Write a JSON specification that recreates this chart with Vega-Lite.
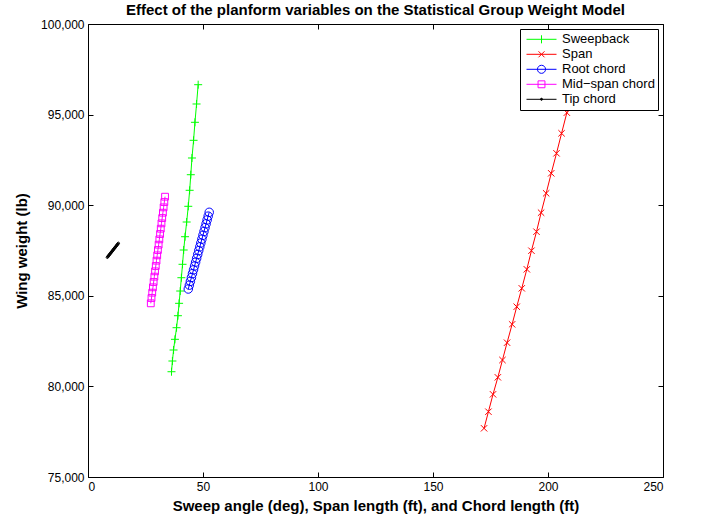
{
  "$schema": "https://vega.github.io/schema/vega-lite/v6.json",
  "autosize": "none",
  "padding": {"left": 88, "top": 24, "right": 38, "bottom": 44},
  "width": 575,
  "height": 453,
  "background": "white",
  "title": {
    "text": "Effect of the planform variables on the Statistical Group Weight Model",
    "font": "Liberation Sans",
    "fontSize": 15,
    "fontWeight": "bold",
    "color": "black",
    "anchor": "middle",
    "offset": 0
  },
  "data": {
    "values": [
      {"series": "Sweepback", "x": 36.3, "y": 80810},
      {"series": "Sweepback", "x": 36.7, "y": 81401},
      {"series": "Sweepback", "x": 37.2, "y": 82008},
      {"series": "Sweepback", "x": 37.8, "y": 82598},
      {"series": "Sweepback", "x": 38.5, "y": 83239},
      {"series": "Sweepback", "x": 39.1, "y": 83901},
      {"series": "Sweepback", "x": 39.6, "y": 84585},
      {"series": "Sweepback", "x": 40.1, "y": 85264},
      {"series": "Sweepback", "x": 40.6, "y": 85998},
      {"series": "Sweepback", "x": 41.1, "y": 86738},
      {"series": "Sweepback", "x": 41.6, "y": 87527},
      {"series": "Sweepback", "x": 42.2, "y": 88261},
      {"series": "Sweepback", "x": 42.9, "y": 89072},
      {"series": "Sweepback", "x": 43.6, "y": 89939},
      {"series": "Sweepback", "x": 44.2, "y": 90822},
      {"series": "Sweepback", "x": 44.7, "y": 91683},
      {"series": "Sweepback", "x": 45.2, "y": 92605},
      {"series": "Sweepback", "x": 45.9, "y": 93581},
      {"series": "Sweepback", "x": 46.5, "y": 94575},
      {"series": "Sweepback", "x": 47.2, "y": 95585},
      {"series": "Sweepback", "x": 47.9, "y": 96650},
      {"series": "Span", "x": 172.2, "y": 77687},
      {"series": "Span", "x": 174.1, "y": 78603},
      {"series": "Span", "x": 176.1, "y": 79563},
      {"series": "Span", "x": 178.2, "y": 80501},
      {"series": "Span", "x": 180.2, "y": 81456},
      {"series": "Span", "x": 182.2, "y": 82411},
      {"series": "Span", "x": 184.4, "y": 83426},
      {"series": "Span", "x": 186.4, "y": 84398},
      {"series": "Span", "x": 188.6, "y": 85413},
      {"series": "Span", "x": 190.8, "y": 86462},
      {"series": "Span", "x": 192.8, "y": 87488},
      {"series": "Span", "x": 195.0, "y": 88537},
      {"series": "Span", "x": 197.0, "y": 89586},
      {"series": "Span", "x": 199.2, "y": 90656},
      {"series": "Span", "x": 201.4, "y": 91760},
      {"series": "Span", "x": 203.7, "y": 92864},
      {"series": "Span", "x": 205.9, "y": 93968},
      {"series": "Span", "x": 208.2, "y": 95105},
      {"series": "Span", "x": 210.4, "y": 96260},
      {"series": "Span", "x": 212.6, "y": 97430},
      {"series": "Span", "x": 214.9, "y": 98620},
      {"series": "Root chord", "x": 43.6, "y": 85375},
      {"series": "Root chord", "x": 44.06, "y": 85587},
      {"series": "Root chord", "x": 44.51, "y": 85798},
      {"series": "Root chord", "x": 44.97, "y": 86010},
      {"series": "Root chord", "x": 45.42, "y": 86222},
      {"series": "Root chord", "x": 45.88, "y": 86433},
      {"series": "Root chord", "x": 46.33, "y": 86645},
      {"series": "Root chord", "x": 46.79, "y": 86857},
      {"series": "Root chord", "x": 47.24, "y": 87068},
      {"series": "Root chord", "x": 47.7, "y": 87280},
      {"series": "Root chord", "x": 48.15, "y": 87492},
      {"series": "Root chord", "x": 48.61, "y": 87703},
      {"series": "Root chord", "x": 49.06, "y": 87915},
      {"series": "Root chord", "x": 49.52, "y": 88126},
      {"series": "Root chord", "x": 49.97, "y": 88338},
      {"series": "Root chord", "x": 50.43, "y": 88550},
      {"series": "Root chord", "x": 50.88, "y": 88761},
      {"series": "Root chord", "x": 51.34, "y": 88973},
      {"series": "Root chord", "x": 51.79, "y": 89185},
      {"series": "Root chord", "x": 52.25, "y": 89396},
      {"series": "Root chord", "x": 52.7, "y": 89608},
      {"series": "Mid−span chord", "x": 27.3, "y": 84585},
      {"series": "Mid−span chord", "x": 27.61, "y": 84879},
      {"series": "Mid−span chord", "x": 27.92, "y": 85173},
      {"series": "Mid−span chord", "x": 28.23, "y": 85468},
      {"series": "Mid−span chord", "x": 28.54, "y": 85762},
      {"series": "Mid−span chord", "x": 28.85, "y": 86056},
      {"series": "Mid−span chord", "x": 29.16, "y": 86350},
      {"series": "Mid−span chord", "x": 29.47, "y": 86644},
      {"series": "Mid−span chord", "x": 29.78, "y": 86939},
      {"series": "Mid−span chord", "x": 30.09, "y": 87233},
      {"series": "Mid−span chord", "x": 30.4, "y": 87527},
      {"series": "Mid−span chord", "x": 30.71, "y": 87821},
      {"series": "Mid−span chord", "x": 31.02, "y": 88115},
      {"series": "Mid−span chord", "x": 31.33, "y": 88410},
      {"series": "Mid−span chord", "x": 31.64, "y": 88704},
      {"series": "Mid−span chord", "x": 31.95, "y": 88998},
      {"series": "Mid−span chord", "x": 32.26, "y": 89292},
      {"series": "Mid−span chord", "x": 32.57, "y": 89586},
      {"series": "Mid−span chord", "x": 32.88, "y": 89881},
      {"series": "Mid−span chord", "x": 33.19, "y": 90175},
      {"series": "Mid−span chord", "x": 33.5, "y": 90469},
      {"series": "Tip chord", "x": 8.4, "y": 87124},
      {"series": "Tip chord", "x": 8.64, "y": 87163},
      {"series": "Tip chord", "x": 8.88, "y": 87201},
      {"series": "Tip chord", "x": 9.12, "y": 87240},
      {"series": "Tip chord", "x": 9.36, "y": 87279},
      {"series": "Tip chord", "x": 9.6, "y": 87317},
      {"series": "Tip chord", "x": 9.84, "y": 87356},
      {"series": "Tip chord", "x": 10.08, "y": 87395},
      {"series": "Tip chord", "x": 10.32, "y": 87433},
      {"series": "Tip chord", "x": 10.56, "y": 87472},
      {"series": "Tip chord", "x": 10.8, "y": 87511},
      {"series": "Tip chord", "x": 11.04, "y": 87549},
      {"series": "Tip chord", "x": 11.28, "y": 87588},
      {"series": "Tip chord", "x": 11.52, "y": 87627},
      {"series": "Tip chord", "x": 11.76, "y": 87665},
      {"series": "Tip chord", "x": 12.0, "y": 87704},
      {"series": "Tip chord", "x": 12.24, "y": 87743},
      {"series": "Tip chord", "x": 12.48, "y": 87781},
      {"series": "Tip chord", "x": 12.72, "y": 87820},
      {"series": "Tip chord", "x": 12.96, "y": 87859},
      {"series": "Tip chord", "x": 13.2, "y": 87897}
    ]
  },
  "layer": [
    {
      "mark": {"type": "line", "strokeWidth": 1, "clip": true},
      "encoding": {
        "x": {
          "field": "x", "type": "quantitative",
          "scale": {"domain": [0, 250], "nice": false, "zero": false},
          "axis": {
            "orient": "bottom",
            "title": "Sweep angle (deg), Span length (ft), and Chord length (ft)",
            "values": [0, 50, 100, 150, 200, 250],
            "titlePadding": 6
          }
        },
        "y": {
          "field": "y", "type": "quantitative",
          "scale": {"domain": [75000, 100000], "nice": false, "zero": false},
          "axis": {
            "orient": "left",
            "title": "Wing weight (lb)",
            "values": [75000, 80000, 85000, 90000, 95000, 100000],
            "format": ",d",
            "titlePadding": 11
          }
        },
        "color": {
          "field": "series", "type": "nominal",
          "scale": {
            "domain": ["Sweepback", "Span", "Root chord", "Mid−span chord", "Tip chord"],
            "range": ["#00ff00", "#ff0000", "#0000ff", "#ff00ff", "#000000"]
          },
          "legend": {
            "title": null,
            "orient": "none",
            "legendX": 432,
            "legendY": 5,
            "fillColor": "white",
            "strokeColor": "black",
            "padding": 3,
            "rowPadding": 0,
            "clipHeight": 14.6,
            "symbolSize": 900,
            "symbolOffset": 3,
            "symbolStrokeWidth": 1,
            "labelOffset": 5,
            "labelFont": "Liberation Sans",
            "labelFontSize": 13,
            "labelColor": "black",
            "cornerRadius": 0,
            "encode": {
              "symbols": {
                "update": {
                  "shape": {"signal": "datum.value === 'Sweepback' ? 'M-1,0H1M0,-0.27V0.27' : datum.value === 'Span' ? 'M-1,0H1M-0.2,-0.2L0.2,0.2M-0.2,0.2L0.2,-0.2' : datum.value === 'Root chord' ? 'M-1,0H1M-0.27,0A0.27,0.27,0,1,0,0.27,0A0.27,0.27,0,1,0,-0.27,0' : datum.value === 'Tip chord' ? 'M-1,0H1M-0.07,0A0.07,0.07,0,1,0,0.07,0A0.07,0.07,0,1,0,-0.07,0' : 'M-1,0H1M-0.23,-0.23H0.23V0.23H-0.23Z'"},
                  "fill": {"signal": "datum.value === 'Tip chord' ? 'black' : 'transparent'"},
                  "stroke": {"scale": "color", "field": "value"},
                  "strokeWidth": {"value": 1},
                  "opacity": {"value": 1}
                }
              }
            }
          }
        }
      }
    },
    {
      "transform": [{"filter": "datum.series === 'Sweepback'"}],
      "mark": {"type": "point", "filled": false, "strokeWidth": 1, "size": 64, "opacity": 1, "clip": true, "shape": "M-1,0H1M0,-1V1"},
      "encoding": {
        "x": {
          "field": "x", "type": "quantitative",
          "axis": {"orient": "top", "labels": false, "title": null, "values": [0, 50, 100, 150, 200, 250]}
        },
        "y": {
          "field": "y", "type": "quantitative",
          "axis": {"orient": "right", "labels": false, "title": null, "values": [75000, 80000, 85000, 90000, 95000, 100000]}
        },
        "color": {"field": "series", "type": "nominal"}
      }
    },
    {
      "transform": [{"filter": "datum.series === 'Span'"}],
      "mark": {"type": "point", "filled": false, "strokeWidth": 1, "size": 64, "opacity": 1, "clip": true, "shape": "M-0.8,-0.8L0.8,0.8M-0.8,0.8L0.8,-0.8"},
      "encoding": {
        "x": {"field": "x", "type": "quantitative", "axis": null},
        "y": {"field": "y", "type": "quantitative", "axis": null},
        "color": {"field": "series", "type": "nominal"}
      }
    },
    {
      "transform": [{"filter": "datum.series === 'Root chord'"}],
      "mark": {"type": "point", "filled": false, "strokeWidth": 1, "size": 72, "opacity": 1, "clip": true, "shape": "circle"},
      "encoding": {
        "x": {"field": "x", "type": "quantitative", "axis": null},
        "y": {"field": "y", "type": "quantitative", "axis": null},
        "color": {"field": "series", "type": "nominal"}
      }
    },
    {
      "transform": [{"filter": "datum.series === 'Mid−span chord'"}],
      "mark": {"type": "point", "filled": false, "strokeWidth": 1, "size": 64, "opacity": 1, "clip": true, "shape": "M-0.85,-0.85H0.85V0.85H-0.85Z"},
      "encoding": {
        "x": {"field": "x", "type": "quantitative", "axis": null},
        "y": {"field": "y", "type": "quantitative", "axis": null},
        "color": {"field": "series", "type": "nominal"}
      }
    },
    {
      "transform": [{"filter": "datum.series === 'Tip chord'"}],
      "mark": {"type": "point", "filled": false, "strokeWidth": 1, "size": 64, "opacity": 1, "clip": true, "shape": "M-0.3,0A0.3,0.3,0,1,0,0.3,0A0.3,0.3,0,1,0,-0.3,0"},
      "encoding": {
        "x": {"field": "x", "type": "quantitative", "axis": null},
        "y": {"field": "y", "type": "quantitative", "axis": null},
        "color": {"field": "series", "type": "nominal"}
      }
    }
  ],
  "resolve": {"axis": {"x": "independent", "y": "independent"}},
  "config": {
    "view": {"stroke": null},
    "axis": {
      "grid": false,
      "domainColor": "black",
      "domainWidth": 1,
      "tickColor": "black",
      "tickWidth": 1,
      "tickSize": -5,
      "labelPadding": 9,
      "labelFont": "Liberation Sans",
      "labelFontSize": 12,
      "labelColor": "black",
      "titleFont": "Liberation Sans",
      "titleFontSize": 15,
      "titleFontWeight": "bold",
      "titleColor": "black"
    }
  }
}
